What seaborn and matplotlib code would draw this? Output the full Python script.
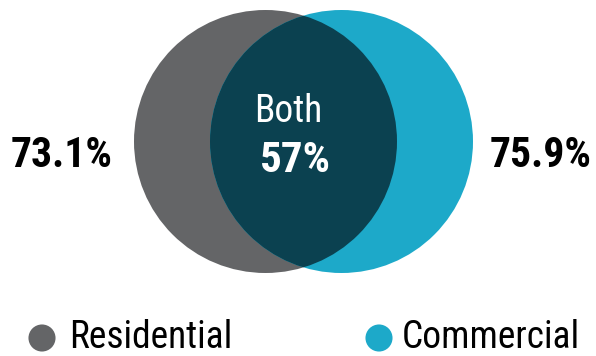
import matplotlib
matplotlib.use("Agg")
import matplotlib.pyplot as plt
from matplotlib.patches import Circle
import seaborn as sns
import pandas as pd
import logging
logging.getLogger("matplotlib.font_manager").setLevel(logging.ERROR)

# ---- data ----
categories = ["Residential", "Commercial"]
shares = [73.1, 75.9]
both_label = "Both"
both_share = 57
colors = ["#646567", "#1da9c9"]
overlap_color = "#0b4150"

sns.set_theme(style="white")
FONT = ["Roboto Condensed", "Fira Sans Condensed", "Encode Sans Condensed",
        "Asap Condensed", "Archivo Narrow", "DejaVu Sans"]
plt.rcParams["font.family"] = FONT

fig = plt.figure(figsize=(5.96, 3.56), dpi=100)
ax = fig.add_axes([0, 0, 1, 1])

# layout (pixel coordinates)
centers = [(265.5, 141.5), (341.5, 141.5)]
radius = 131.5

c_left = Circle(centers[0], radius, facecolor=colors[0], edgecolor="none", zorder=1)
c_right = Circle(centers[1], radius, facecolor=colors[1], edgecolor="none", zorder=1)
ax.add_patch(c_left)
ax.add_patch(c_right)
inter = Circle(centers[1], radius, facecolor=overlap_color, edgecolor="none", zorder=2)
ax.add_patch(inter)
inter.set_clip_path(c_left)

# legend markers
legend_df = pd.DataFrame({"cat": categories, "x": [42, 379], "y": [338, 338]})
sns.scatterplot(data=legend_df, x="x", y="y", hue="cat", palette=colors,
                s=380, edgecolor="none", legend=False, ax=ax, zorder=5)

ax.set_xlim(0, 596)
ax.set_ylim(356, 0)
ax.set_aspect("equal")
ax.axis("off")

# outer percentage labels
label_x = [62, 541]
for x, v in zip(label_x, shares):
    ax.text(x, 167, f"{v:.1f}%", ha="center", va="baseline", fontsize=30,
            fontweight="bold", color="black", zorder=5)

ax.text(288, 122, both_label, ha="center", va="baseline", fontsize=27,
        color="white", zorder=5)
ax.text(295, 172, f"{both_share}%", ha="center", va="baseline", fontsize=31,
        fontweight="bold", color="white", zorder=5)

for x, name in zip([69, 402], categories):
    ax.text(x, 348, name, ha="left", va="baseline", fontsize=27, color="black", zorder=5)

fig.savefig("out.png", dpi=100)
